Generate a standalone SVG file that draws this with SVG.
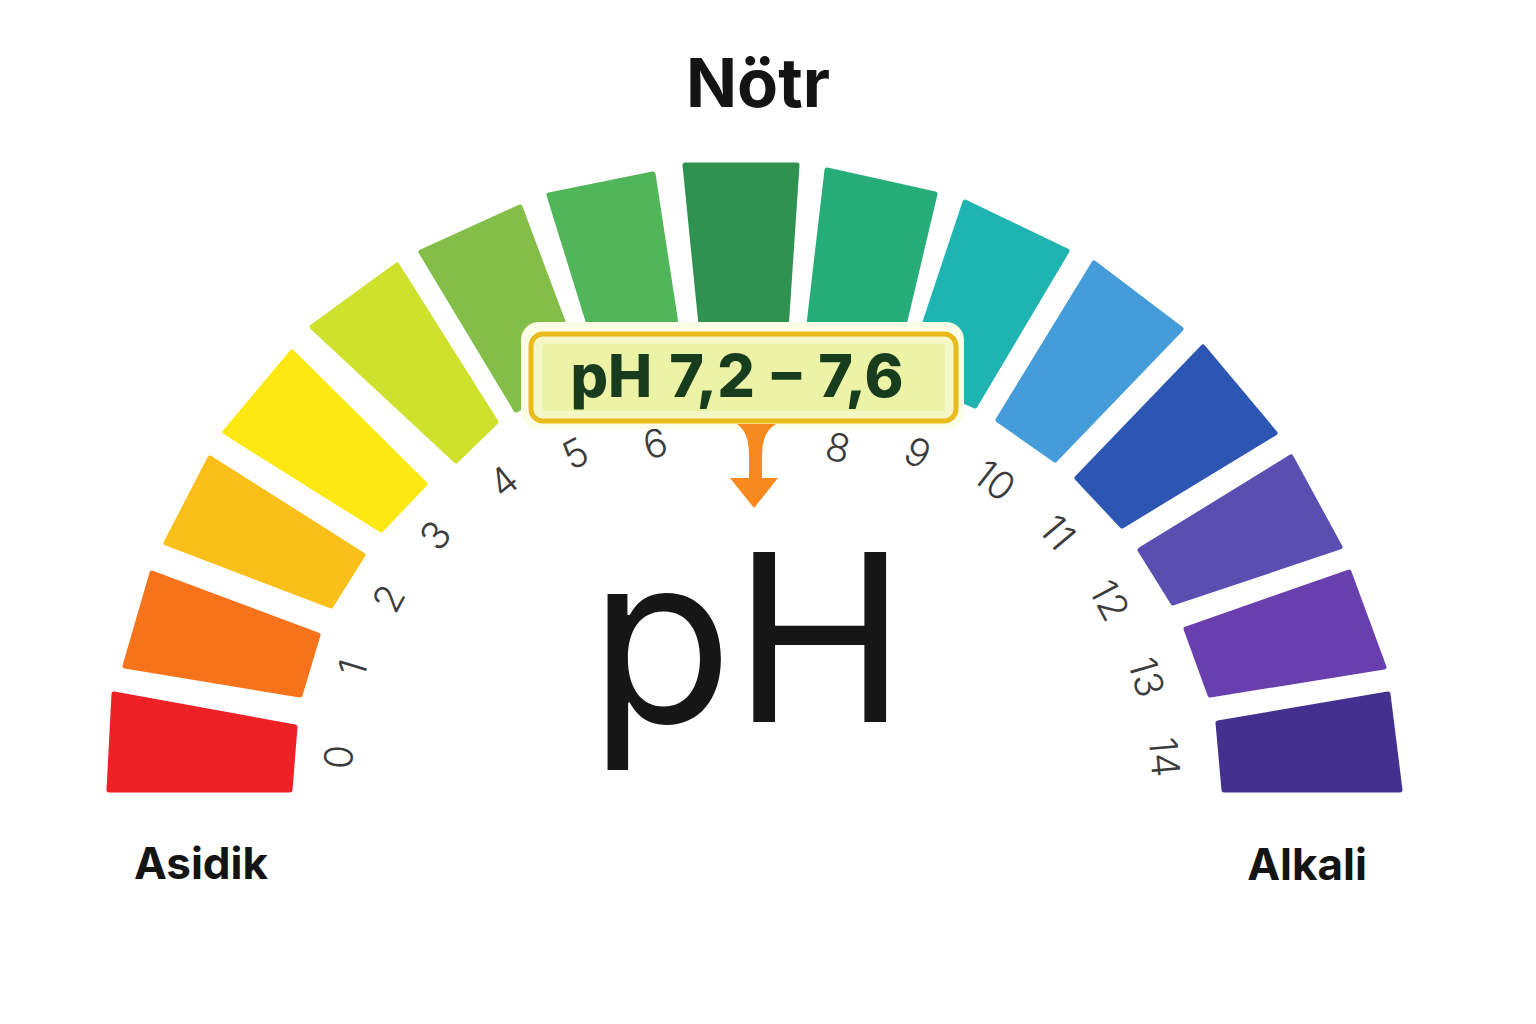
<svg xmlns="http://www.w3.org/2000/svg" width="1536" height="1024" viewBox="0 0 1536 1024">
<style>
.seg{stroke-width:5;stroke-linejoin:round}
.num{font-family:Inter,Roboto,"DejaVu Sans",sans-serif;font-weight:300;font-size:39px;fill:#3c3c3c;text-anchor:middle;dominant-baseline:central}
.ttl{font-family:Inter,"Liberation Sans",sans-serif;font-weight:700;fill:#141414;text-anchor:middle}
</style>
<rect width="1536" height="1024" fill="#ffffff"/>
<g id="scale">
<polygon id="seg0" class="seg" fill="#ee2127" stroke="#ee2127" points="109,790 114,694 295,727 290,790"/>
<polygon id="seg1" class="seg" fill="#f6731b" stroke="#f6731b" points="125,666 152,573 318,635 300,695"/>
<polygon id="seg2" class="seg" fill="#fbbf1a" stroke="#fbbf1a" points="166,543 210,458 363,555 331,606"/>
<polygon id="seg3" class="seg" fill="#fde912" stroke="#fde912" points="225,432 292,352 425,484 381,530"/>
<polygon id="seg4" class="seg" fill="#cde12d" stroke="#cde12d" points="312,327 397,265 496,422 456,461"/>
<polygon id="seg5" class="seg" fill="#83bf48" stroke="#83bf48" points="421,252 520,207 583,375 516,410"/>
<polygon id="seg6" class="seg" fill="#50b659" stroke="#50b659" points="549,195 653,174 680,350 601,363"/>
<polygon id="seg7" class="seg" fill="#2f9250" stroke="#2f9250" points="685,165 797,165 785,345 703,345"/>
<polygon id="seg8" class="seg" fill="#26ad78" stroke="#26ad78" points="827,170 935,194 895,363 806,350"/>
<polygon id="seg9" class="seg" fill="#1fb4b1" stroke="#1fb4b1" points="965,202 1067,251 975,406 907,376"/>
<polygon id="seg10" class="seg" fill="#449cd9" stroke="#449cd9" points="1094,263 1181,329 1055,460 998,420"/>
<polygon id="seg11" class="seg" fill="#2d56b3" stroke="#2d56b3" points="1203,347 1275,433 1122,526 1077,478"/>
<polygon id="seg12" class="seg" fill="#5a4eb0" stroke="#5a4eb0" points="1291,457 1340,547 1173,603 1140,550"/>
<polygon id="seg13" class="seg" fill="#693fae" stroke="#693fae" points="1349,572 1384,667 1210,695 1186,629"/>
<polygon id="seg14" class="seg" fill="#44308f" stroke="#44308f" points="1388,694 1400,790 1224,790 1218,723"/>
</g>
<g id="numbers">
<text class="num" transform="translate(338,757) rotate(-85)">0</text>
<text class="num" transform="translate(352,668) rotate(-73)">1</text>
<text class="num" transform="translate(388,598) rotate(-62)">2</text>
<text class="num" transform="translate(435,535) rotate(-51)">3</text>
<text class="num" transform="translate(503,481) rotate(-39)">4</text>
<text class="num" transform="translate(575,453) rotate(-28)">5</text>
<text class="num" transform="translate(655,443) rotate(-15)">6</text>
<text class="num" transform="translate(838,447) rotate(14)">8</text>
<text class="num" transform="translate(918,452) rotate(26)">9</text>
<text class="num" transform="translate(995,480) rotate(38)">10</text>
<text class="num" transform="translate(1058,532) rotate(50)">11</text>
<text class="num" transform="translate(1110,600) rotate(62)">12</text>
<text class="num" transform="translate(1147,677) rotate(74)">13</text>
<text class="num" transform="translate(1165,757) rotate(85)">14</text>
</g>
<g id="range-label">
<rect x="521" y="322" width="443" height="107" rx="18" fill="#fbfde6"/>
<rect x="531" y="334" width="425" height="87" rx="12" fill="#f3f8c6" stroke="#e9ba1c" stroke-width="5"/>
<rect x="542" y="344" width="403" height="67" rx="4" fill="#ecf3a6"/>
<text x="737" y="397" font-family="Inter,'Liberation Sans',sans-serif" font-weight="800" font-size="59" word-spacing="4" fill="#173d1e" text-anchor="middle">pH 7,2 – 7,6</text>
</g>
<g id="connectors">
<path id="pointer" d="M737,424 Q749,432 749,455 L749,478 L730,478 L754,508 L778,478 L762,478 L762,455 Q762,432 776,424 Z" fill="#f7891f"/>
</g>
<g id="center-label">
<text x="748" y="722" font-family="Inter,'Liberation Sans',sans-serif" font-weight="400" font-size="234" fill="#161616" text-anchor="middle">pH</text>
</g>
<g id="titles">
<text id="notr" class="ttl" x="758" y="107" font-size="67">Nötr</text>
<text id="asidik" class="ttl" x="201" y="879" font-size="44">Asidik</text>
<text id="alkali" class="ttl" x="1307" y="880" font-size="44">Alkali</text>
</g>
</svg>
